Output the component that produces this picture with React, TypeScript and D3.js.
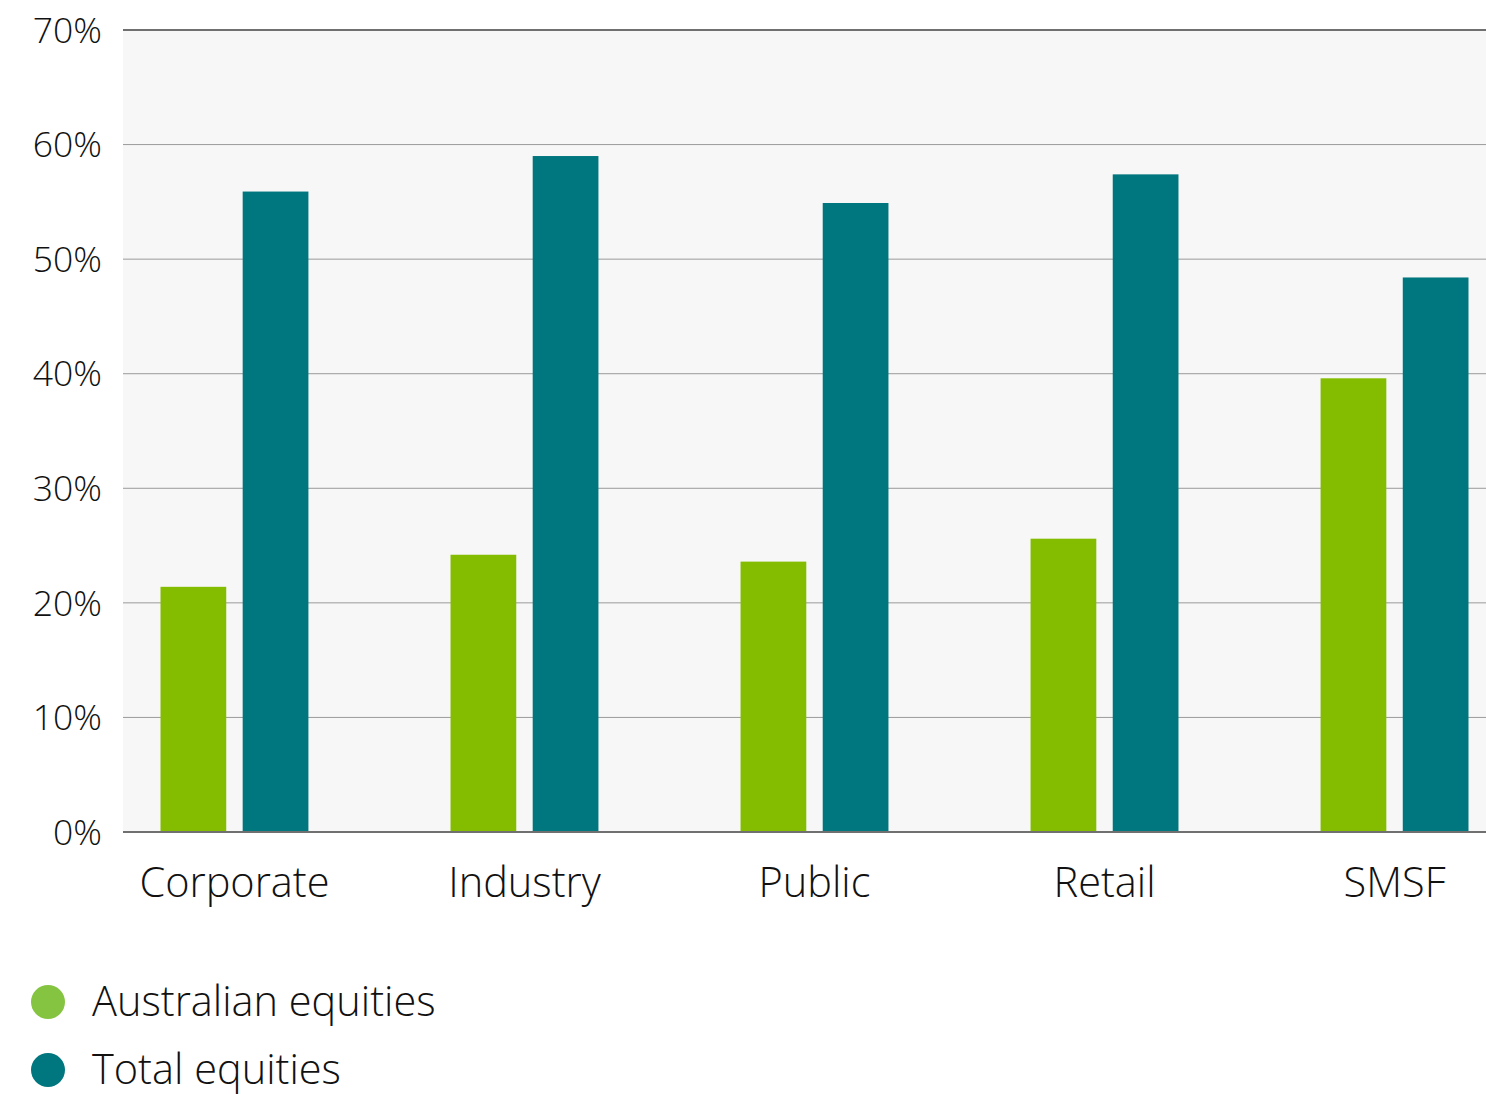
import React from "react";
import * as d3 from "d3";

const categories = ["Corporate", "Industry", "Public", "Retail", "SMSF"];
const seriesNames = ["Australian equities", "Total equities"];
const australianEquities = [21.4, 24.2, 23.6, 25.6, 39.6];
const totalEquities = [55.9, 59.0, 54.9, 57.4, 48.4];
const yTicks = [0, 10, 20, 30, 40, 50, 60, 70];

const barColors = ["#84bd00", "#00767e"];
const legendColors = ["#84c441", "#00767e"];

const W = 1486;
const H = 1094;
const plotLeft = 123;
const plotRight = 1486;
const plotTop = 30;
const plotBottom = 832;
const FONT = "'Open Sans', 'Noto Sans', sans-serif";

export default function App() {
  const y = d3.scaleLinear().domain([0, 70]).range([plotBottom, plotTop]);
  const x = d3
    .scaleBand<string>()
    .domain(categories)
    .range([88, 1541])
    .paddingInner(0.49)
    .paddingOuter(0.25);
  const xInner = d3
    .scaleBand<string>()
    .domain(seriesNames)
    .range([0, x.bandwidth()])
    .paddingInner(0.2)
    .paddingOuter(0);
  const series = [australianEquities, totalEquities];

  return (
    <svg
      width={W}
      height={H}
      style={{ position: "absolute", left: 0, top: 0, display: "block" }}
    >
      <rect x={plotLeft} y={plotTop} width={plotRight - plotLeft} height={plotBottom - plotTop} fill="#f7f7f7" />
      {yTicks.map((t) => (
        <g key={t}>
          <line
            x1={plotLeft}
            x2={plotRight}
            y1={y(t)}
            y2={y(t)}
            stroke={t === 0 || t === 70 ? "#707070" : "#9a9a9a"}
            strokeWidth={t === 0 || t === 70 ? 2 : 1}
          />
          <text
            x={102}
            y={y(t)}
            dy="0.36em"
            textAnchor="end"
            fontFamily={FONT}
            fontWeight={300}
            fontSize={35.5}
            fill="#111"
          >
            {t}%
          </text>
        </g>
      ))}
      {categories.map((c, i) => (
        <g key={c}>
          {series.map((vals, s) => {
            const bx = (x(c) as number) + (xInner(seriesNames[s]) as number);
            return (
              <rect
                key={s}
                x={bx}
                y={y(vals[i])}
                width={xInner.bandwidth()}
                height={y(0) - y(vals[i]) - 1}
                fill={barColors[s]}
              />
            );
          })}
          <text
            x={(x(c) as number) + x.bandwidth() / 2}
            y={897}
            textAnchor="middle"
            fontFamily={FONT}
            fontWeight={300}
            fontSize={41.5}
            fill="#111"
          >
            {c}
          </text>
        </g>
      ))}
      {seriesNames.map((s, i) => (
        <g key={s}>
          <circle cx={48} cy={1002 + i * 68} r={17} fill={legendColors[i]} />
          <text
            x={92}
            y={1001 + i * 68}
            dy="0.36em"
            fontFamily={FONT}
            fontWeight={300}
            fontSize={41.5}
            fill="#111"
          >
            {s}
          </text>
        </g>
      ))}
    </svg>
  );
}
